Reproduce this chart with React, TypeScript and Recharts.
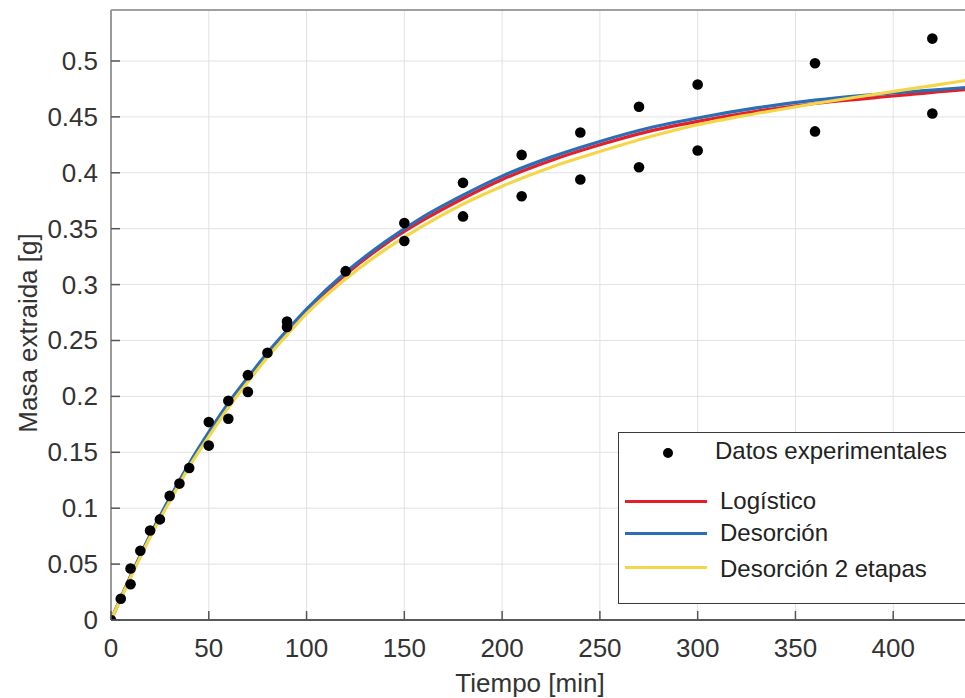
import React from 'react';
import {
  ComposedChart,
  Line,
  Scatter,
  XAxis,
  YAxis,
  CartesianGrid,
  ReferenceLine,
} from 'recharts';

// experimental points (two replicates at most sampling times)
const timeExp = [0, 5, 10, 10, 15, 20, 25, 30, 35, 40, 50, 50, 60, 60, 70, 70, 80, 90, 90, 120, 150, 150, 180, 180, 210, 210, 240, 240, 270, 270, 300, 300, 360, 360, 420, 420];
const massExp = [0, 0.019, 0.046, 0.032, 0.062, 0.080, 0.090, 0.111, 0.122, 0.136, 0.177, 0.156, 0.196, 0.180, 0.219, 0.204, 0.239, 0.267, 0.262, 0.312, 0.355, 0.339, 0.391, 0.361, 0.416, 0.379, 0.436, 0.394, 0.459, 0.405, 0.479, 0.420, 0.498, 0.437, 0.520, 0.453];

// fitted model curves
const timeFit = [0, 10, 20, 30, 40, 50, 60, 70, 80, 90, 100, 120, 140, 160, 180, 200, 225, 250, 275, 300, 330, 360, 390, 420, 450];
const logistico = [0, 0.039, 0.075, 0.108, 0.139, 0.167, 0.193, 0.216, 0.238, 0.258, 0.277, 0.309, 0.336, 0.358, 0.377, 0.394, 0.411, 0.425, 0.437, 0.446, 0.455, 0.462, 0.467, 0.472, 0.476];
const desorcion = [0, 0.039, 0.076, 0.109, 0.140, 0.168, 0.194, 0.217, 0.239, 0.259, 0.278, 0.311, 0.338, 0.361, 0.380, 0.397, 0.414, 0.428, 0.440, 0.449, 0.458, 0.465, 0.470, 0.474, 0.478];
const desorcion2 = [0, 0.038, 0.074, 0.106, 0.137, 0.164, 0.190, 0.213, 0.235, 0.255, 0.274, 0.305, 0.331, 0.353, 0.372, 0.388, 0.405, 0.419, 0.432, 0.443, 0.453, 0.462, 0.470, 0.478, 0.486];

const xTicks = [0, 50, 100, 150, 200, 250, 300, 350, 400];
const yTicks = [0, 0.05, 0.1, 0.15, 0.2, 0.25, 0.3, 0.35, 0.4, 0.45, 0.5];
const X_MAX = 450;
const Y_MAX = 0.5456;

const seriesNames = ['Logístico', 'Desorción', 'Desorción 2 etapas'];
const seriesKeys = ['logistico', 'desorcion', 'desorcion2'];
const seriesColors = ['#e3202a', '#2c6db5', '#f4d64a'];

const FONT = '"Liberation Sans", Arial, Helvetica, sans-serif';
const TEXT = '#333333';

const expRows = timeExp.map((t, i) => ({ t, m: massExp[i] }));
const fitRows = timeFit.map((t, i) => ({
  t,
  logistico: logistico[i],
  desorcion: desorcion[i],
  desorcion2: desorcion2[i],
}));

const fmt = (v: number) => String(Number(v.toFixed(2)));

const XTick = (props: any) => {
  const { x, y, payload } = props;
  return (
    <g>
      <line x1={x} x2={x} y1={y} y2={y - 9} stroke="#555" strokeWidth={1.5} />
      <text x={x} y={y + 37} textAnchor="middle" fontSize={26} fill={TEXT} fontFamily={FONT}>
        {fmt(payload.value)}
      </text>
    </g>
  );
};

const YTick = (props: any) => {
  const { x, y, payload } = props;
  return (
    <g>
      <line x1={x} x2={x + 9} y1={y} y2={y} stroke="#555" strokeWidth={1.5} />
      <text x={x - 13} y={y + 9} textAnchor="end" fontSize={26} fill={TEXT} fontFamily={FONT}>
        {fmt(payload.value)}
      </text>
    </g>
  );
};

const XLabel = (props: any) => {
  const { viewBox } = props;
  return (
    <text
      x={530}
      y={viewBox.y + 72}
      textAnchor="middle"
      fontSize={26}
      fill={TEXT}
      fontFamily={FONT}
    >
      Tiempo [min]
    </text>
  );
};

const YLabel = (props: any) => {
  const { viewBox } = props;
  const cx = 28;
  const cy = viewBox.y + viewBox.height / 2 + 18;
  return (
    <text
      x={cx}
      y={cy}
      dy="0.35em"
      transform={`rotate(-90, ${cx}, ${cy})`}
      textAnchor="middle"
      fontSize={26}
      fill={TEXT}
      fontFamily={FONT}
    >
      Masa extraida [g]
    </text>
  );
};

const Dot = (props: any) => <circle cx={props.cx} cy={props.cy} r={5.3} fill="#000" />;

const Legend = () => (
  <div
    style={{
      position: 'absolute',
      left: 618,
      top: 432,
      width: 380,
      height: 170,
      border: '1.5px solid #3a3a3a',
      background: '#fff',
      fontFamily: FONT,
      fontSize: 24,
      color: '#222',
    }}
  >
    <div style={{ position: 'absolute', left: 44, top: 15, width: 10, height: 10, borderRadius: 5, background: '#000' }} />
    <div style={{ position: 'absolute', left: 96, top: 4, lineHeight: '28px' }}>Datos experimentales</div>
    {seriesNames.map((name, i) => (
      <React.Fragment key={name}>
        <div
          style={{
            position: 'absolute',
            left: 6,
            top: [67, 99, 133][i],
            width: 82,
            height: 3,
            background: seriesColors[i],
          }}
        />
        <div style={{ position: 'absolute', left: 101, top: [54, 86, 122][i], lineHeight: '28px' }}>{name}</div>
      </React.Fragment>
    ))}
  </div>
);

export default function App() {
  return (
    <div
      style={{
        position: 'fixed',
        left: 0,
        top: 0,
        width: 965,
        height: 698,
        overflow: 'hidden',
        background: '#fff',
      }}
    >
      <ComposedChart width={1000} height={698} margin={{ top: 10, right: 9, bottom: 0, left: 0 }}>
        <CartesianGrid stroke="#e2e2e2" strokeWidth={1} />
        <XAxis
          type="number"
          dataKey="t"
          domain={[0, X_MAX]}
          ticks={xTicks}
          height={78}
          tickSize={0}
          tickMargin={0}
          tickLine={false}
          tick={<XTick />}
          axisLine={{ stroke: '#5a5a5a', strokeWidth: 2 }}
          allowDataOverflow
          label={<XLabel />}
        />
        <YAxis
          type="number"
          domain={[0, Y_MAX]}
          ticks={yTicks}
          width={111}
          tickSize={0}
          tickMargin={0}
          tickLine={false}
          tick={<YTick />}
          axisLine={{ stroke: '#9a9a9a', strokeWidth: 2 }}
          allowDataOverflow
          label={<YLabel />}
        />
        <ReferenceLine y={Y_MAX} stroke="#a0a0a0" strokeWidth={2} />
        <Scatter data={expRows} dataKey="m" shape={<Dot />} isAnimationActive={false} />
        {seriesKeys.map((key, i) => (
          <Line
            key={key}
            data={fitRows}
            dataKey={key}
            type="monotone"
            stroke={seriesColors[i]}
            strokeWidth={3.2}
            dot={false}
            activeDot={false}
            isAnimationActive={false}
          />
        ))}
      </ComposedChart>
      <Legend />
    </div>
  );
}
